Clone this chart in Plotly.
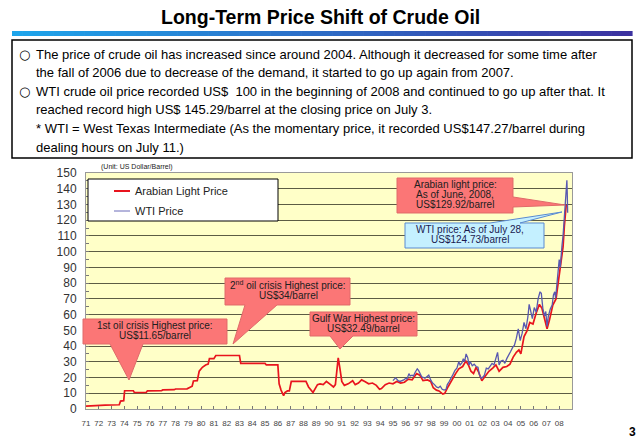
import plotly.graph_objects as go

# ---------------- data ----------------
AL_YEAR = [1971.00, 1971.50, 1972.50, 1973.60, 1973.70, 1973.95, 1974.02, 1974.70, 1974.78, 1975.70,
           1975.80, 1976.90, 1977.00, 1977.90, 1978.00, 1978.90, 1979.05, 1979.30, 1979.40, 1979.70,
           1979.85, 1980.10, 1980.35, 1980.55, 1980.65, 1981.00, 1981.15, 1983.00, 1983.10, 1985.00,
           1985.10, 1986.00, 1986.10, 1986.25, 1986.45, 1986.55, 1986.75, 1986.90, 1987.05, 1988.20,
           1988.40, 1988.75, 1989.10, 1989.30, 1989.55, 1989.80, 1990.05, 1990.35, 1990.50, 1990.62,
           1990.72, 1990.85, 1991.00, 1991.20, 1991.50, 1991.85, 1992.05, 1992.30, 1992.55, 1992.80,
           1993.10, 1993.40, 1993.70, 1993.95, 1994.10, 1994.40, 1994.70, 1995.00, 1995.30, 1995.60,
           1995.90, 1996.20, 1996.50, 1996.85, 1997.10, 1997.35, 1997.70, 1997.95, 1998.15, 1998.40,
           1998.60, 1998.90, 1999.05, 1999.30, 1999.60, 1999.90, 2000.15, 2000.45, 2000.70, 2000.90,
           2001.10, 2001.30, 2001.50, 2001.70, 2001.95, 2002.20, 2002.50, 2002.80, 2003.05, 2003.30,
           2003.60, 2003.90, 2004.15, 2004.40, 2004.65, 2004.85, 2005.00, 2005.25, 2005.50, 2005.70,
           2005.95, 2006.20, 2006.45, 2006.65, 2006.90, 2007.05, 2007.25, 2007.50, 2007.75, 2007.95,
           2008.15, 2008.30, 2008.40, 2008.55]
AL_PRICE = [1.8, 2.1, 2.4, 2.7, 5.0, 5.3, 11.6, 11.6, 10.5, 10.5,
            11.5, 11.6, 12.1, 12.3, 12.7, 12.8, 13.5, 14.5, 17.8, 18.0,
            24.0, 26.5, 28.0, 28.5, 32.0, 32.0, 34.0, 34.0, 29.0, 29.0,
            28.0, 28.0, 16.0, 12.0, 8.5, 10.5, 11.5, 11.5, 17.5, 17.5,
            14.0, 10.5, 15.5, 16.0, 15.5, 17.5, 16.0, 14.0, 15.5, 28.0,
            32.5, 26.0, 17.5, 15.0, 16.0, 18.0, 15.5, 16.5, 18.5, 17.5,
            16.0, 16.5, 15.0, 12.5, 13.0, 15.5, 16.5, 16.0, 17.5, 16.5,
            17.0, 19.0, 18.5, 22.5, 21.5, 18.0, 18.5, 17.5, 13.5, 12.0,
            11.5, 9.5, 10.0, 14.0, 18.5, 22.5, 25.5, 27.0, 30.5, 28.0,
            24.0, 22.5, 26.5, 23.5, 18.0, 21.0, 24.0, 26.0, 28.0, 24.0,
            26.5, 27.0, 28.5, 33.0, 36.0, 37.5, 35.0, 46.0, 50.0, 55.0,
            54.0, 61.0, 66.5, 64.0, 56.0, 51.0, 57.0, 66.0, 70.0, 82.0,
            92.0, 103.0, 116.0, 129.92]

WTI_YEAR = [1995.00, 1995.10, 1995.20, 1995.30, 1995.40, 1995.55, 1995.70, 1995.85, 1996.00, 1996.10,
            1996.25, 1996.35, 1996.50, 1996.60, 1996.75, 1996.90, 1997.00, 1997.10, 1997.25, 1997.40,
            1997.50, 1997.65, 1997.80, 1997.95, 1998.10, 1998.25, 1998.40, 1998.55, 1998.70, 1998.85,
            1999.00, 1999.15, 1999.25, 1999.40, 1999.55, 1999.70, 1999.85, 2000.00, 2000.15, 2000.25,
            2000.40, 2000.50, 2000.60, 2000.72, 2000.85, 2000.95, 2001.05, 2001.20, 2001.35, 2001.50,
            2001.65, 2001.75, 2001.90, 2002.00, 2002.15, 2002.30, 2002.45, 2002.60, 2002.75, 2002.90,
            2003.05, 2003.18, 2003.30, 2003.45, 2003.60, 2003.75, 2003.90, 2004.05, 2004.20, 2004.35,
            2004.50, 2004.65, 2004.80, 2004.95, 2005.10, 2005.25, 2005.40, 2005.55, 2005.65, 2005.75,
            2005.90, 2006.05, 2006.20, 2006.35, 2006.50, 2006.60, 2006.72, 2006.85, 2006.95, 2007.05,
            2007.15, 2007.30, 2007.45, 2007.55, 2007.65, 2007.72, 2007.82, 2007.90, 2008.00, 2008.08,
            2008.15, 2008.22, 2008.30, 2008.38, 2008.45, 2008.50, 2008.55, 2008.60, 2008.63, 2008.66]
WTI_PRICE = [18.0, 18.8, 19.8, 19.0, 18.0, 17.5, 17.8, 18.5, 19.5, 19.0,
             22.5, 21.0, 21.5, 21.0, 23.5, 25.5, 24.5, 23.0, 20.5, 20.0,
             19.5, 20.5, 21.5, 18.5, 16.5, 15.5, 14.0, 13.5, 14.5, 12.5,
             12.0, 12.5, 15.5, 17.5, 19.5, 22.0, 24.5, 26.0, 30.0, 28.0,
             29.5, 32.0, 30.0, 35.0, 32.5, 28.0, 30.0, 27.5, 28.5, 27.0,
             26.5, 22.0, 19.5, 20.0, 21.5, 26.0, 25.5, 27.0, 29.0, 28.0,
             33.0, 36.0, 28.0, 30.5, 31.0, 29.0, 32.0, 34.0, 36.5, 39.0,
             40.5, 45.0, 51.0, 43.5, 48.0, 55.0, 51.0, 58.5, 66.5, 63.0,
             57.5, 64.5, 61.5, 70.0, 74.5, 73.5, 64.0, 59.0, 62.0, 52.5,
             59.0, 63.5, 66.0, 72.5, 74.5, 70.5, 80.0, 90.0, 95.0, 90.0,
             100.0, 104.0, 110.0, 120.0, 127.0, 134.0, 140.0, 145.3, 137.0, 124.73]

YEARS = list(range(1971, 2009))
YEAR_LABELS = ["%02d" % (y % 100) for y in YEARS]

TITLE = "Long-Term Price Shift of Crude Oil"
BODY_LINES = [
    ("\u25cb", "The price of crude oil has increased since around 2004. Although it decreased for some time after"),
    ("", "the fall of 2006 due to decrease of the demand, it started to go up again from 2007."),
    ("\u25cb", "WTI crude oil price recorded US$  100 in the beginning of 2008 and continued to go up after that. It"),
    ("", "reached record high US$ 145.29/barrel at the closing price on July 3."),
    ("", "* WTI = West Texas Intermediate (As the momentary price, it recorded US$147.27/barrel during"),
    ("", "dealing hours on July 11.)"),
]

# ---------------- geometry helpers (pixel -> paper) ----------------
W_, H_ = 640, 443
PL, PR, PT, PB = 86, 572, 173, 409
PW, PH = PR - PL, PB - PT


def px(x):
    return (x - PL) / PW


def py(y):
    return (PB - y) / PH


def path(points):
    s = "M " + " L ".join("%.5f,%.5f" % (px(x), py(y)) for x, y in points) + " Z"
    return s


FONT = "Arial, Liberation Sans, sans-serif"
RED = "#e8141e"
WTI_C = "#5858b0"

fig = go.Figure()
fig.add_trace(go.Scatter(x=AL_YEAR, y=AL_PRICE, mode="lines", name="Arabian Light Price",
                         line=dict(color=RED, width=1.7), showlegend=False))
fig.add_trace(go.Scatter(x=WTI_YEAR, y=WTI_PRICE, mode="lines", name="WTI Price",
                         line=dict(color=WTI_C, width=1.3), showlegend=False))

shapes = []
annotations = []

# title gradient bar
n = 60
x0, x1 = 12, 632
c0 = (30, 165, 235)
c1 = (60, 50, 160)
for i in range(n):
    t = i / (n - 1)
    col = "rgb(%d,%d,%d)" % tuple(round(c0[k] + (c1[k] - c0[k]) * t) for k in range(3))
    xa = x0 + (x1 - x0) * i / n
    xb = x0 + (x1 - x0) * (i + 1) / n + 0.6
    shapes.append(dict(type="rect", xref="paper", yref="paper", x0=px(xa), x1=px(xb),
                       y0=py(36), y1=py(31), fillcolor=col, line=dict(width=0), layer="above"))

annotations.append(dict(text="<b>%s</b>" % TITLE, xref="paper", yref="paper", x=px(320), y=py(17),
                        xanchor="center", yanchor="middle", showarrow=False,
                        font=dict(family=FONT, size=19.5, color="#000")))

# text box
shapes.append(dict(type="rect", xref="paper", yref="paper", x0=px(12), x1=px(632), y0=py(40), y1=py(158),
                   fillcolor="white", line=dict(color="black", width=1.5), layer="above"))
ly = 54.0
for bullet, line in BODY_LINES:
    if bullet:
        annotations.append(dict(text=bullet, xref="paper", yref="paper", x=px(17), y=py(ly),
                                xanchor="left", yanchor="middle", showarrow=False,
                                font=dict(family="DejaVu Sans", size=13, color="#000")))
    annotations.append(dict(text=line, xref="paper", yref="paper", x=px(34), y=py(ly),
                            xanchor="left", yanchor="middle", showarrow=False,
                            font=dict(family=FONT, size=13, color="#000")))
    ly += 18.6

# unit label
annotations.append(dict(text="(Unit: US Dollar/Barrel)", xref="paper", yref="paper", x=px(99), y=py(167),
                        xanchor="left", yanchor="middle", showarrow=False,
                        font=dict(family=FONT, size=7, color="#222")))

# legend box (drawn)
shapes.append(dict(type="rect", xref="paper", yref="paper", x0=px(88), x1=px(278), y0=py(179), y1=py(221),
                   fillcolor="white", line=dict(color="black", width=1), layer="above"))
shapes.append(dict(type="line", xref="paper", yref="paper", x0=px(114), x1=px(130), y0=py(191), y1=py(191),
                   line=dict(color=RED, width=2), layer="above"))
shapes.append(dict(type="line", xref="paper", yref="paper", x0=px(114), x1=px(130), y0=py(211), y1=py(211),
                   line=dict(color="#6a6ab8", width=1), layer="above"))
annotations.append(dict(text="Arabian Light Price", xref="paper", yref="paper", x=px(133), y=py(191),
                        xanchor="left", yanchor="middle", showarrow=False,
                        font=dict(family=FONT, size=11, color="#222")))
annotations.append(dict(text="WTI Price", xref="paper", yref="paper", x=px(133), y=py(211),
                        xanchor="left", yanchor="middle", showarrow=False,
                        font=dict(family=FONT, size=11, color="#222")))

# callouts
CALL_FILL = "#fb7676"
CALL_LINE = "#e06a6a"
callouts = [
    ([(83, 319), (227, 319), (227, 344), (143, 344), (129, 380), (110, 344), (83, 344)],
     ["1st oil crisis Highest price:", "US$11.65/barrel"], 155, 325, CALL_FILL, CALL_LINE, "#202020"),
    ([(225, 278), (350, 278), (350, 305), (277, 305), (233, 344), (245, 305), (225, 305)],
     ["2<sup>nd</sup> oil crisis Highest price:", "US$34/barrel"], 288, 285, CALL_FILL, CALL_LINE, "#202020"),
    ([(310, 312), (417, 312), (417, 336), (353, 336), (340, 349), (330, 336), (310, 336)],
     ["Gulf War Highest price:", "US$32.49/barrel"], 363, 318, CALL_FILL, CALL_LINE, "#202020"),
    ([(397, 178), (513, 178), (513, 197), (565, 205), (513, 207), (513, 213), (397, 213)],
     ["Arabian light price:", "As of June, 2008,", "US$129.92/barrel"], 455, 184, CALL_FILL, CALL_LINE, "#202020"),
    ([(405, 223), (490, 223), (562, 212), (520, 223), (544, 223), (544, 248), (405, 248)],
     ["WTI price: As of July 28,", "US$124.73/barrel"], 470, 229, "#c4f0ff", "#5a8ad0", "#1a1a50"),
]
for pts, lines, tx, ty, fill, lc, tc in callouts:
    shapes.append(dict(type="path", xref="paper", yref="paper", path=path(pts), fillcolor=fill,
                       line=dict(color=lc, width=1), layer="above"))
    for i, t in enumerate(lines):
        annotations.append(dict(text=t, xref="paper", yref="paper", x=px(tx), y=py(ty + i * 10),
                                xanchor="center", yanchor="middle", showarrow=False,
                                font=dict(family=FONT, size=10, color=tc)))

# page number
annotations.append(dict(text="<b>3</b>", xref="paper", yref="paper", x=px(632), y=py(432),
                        xanchor="center", yanchor="middle", showarrow=False,
                        font=dict(family=FONT, size=12, color="#000")))

fig.update_layout(
    width=W_, height=H_,
    margin=dict(l=PL, r=W_ - PR, t=PT, b=H_ - PB, pad=0),
    paper_bgcolor="white",
    plot_bgcolor="#ffffc8",
    shapes=shapes,
    annotations=annotations,
    showlegend=False,
    xaxis=dict(range=[1971, 2009], tickvals=YEARS, ticktext=YEAR_LABELS, showgrid=False,
               ticks="inside", ticklen=3, tickcolor="#777", tickfont=dict(family=FONT, size=8, color="#444"),
               ticklabelstandoff=6,
               showline=True, linecolor="#999", linewidth=1, mirror=True, zeroline=False, fixedrange=True),
    yaxis=dict(range=[0, 150], dtick=10, tick0=0, showgrid=True, gridcolor="#5c5c44", gridwidth=1,
               ticks="inside", ticklen=3, tickcolor="#777",
               minor=dict(dtick=5, ticks="inside", ticklen=3, tickcolor="#777", showgrid=False),
               tickfont=dict(family=FONT, size=12, color="#333"), ticklabelstandoff=6,
               showline=True, linecolor="#999", linewidth=1, mirror=True, zeroline=False, fixedrange=True),
)

fig.write_html("out.html", config={"displayModeBar": False},
               post_script="document.body.style.margin='0px';document.body.style.overflow='hidden';")
